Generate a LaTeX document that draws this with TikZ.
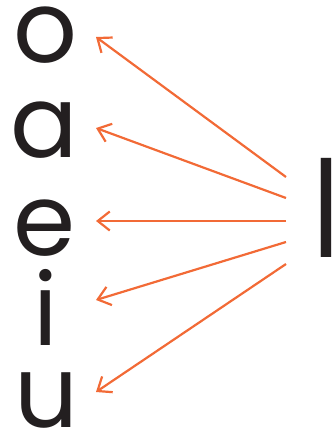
\documentclass[tikz,border=0pt]{standalone}
\usepackage{fontspec}
\newfontfamily\vowelfont{Poppins}
\newfontfamily\consfont{Poppins}
\usetikzlibrary{arrows.meta}
\definecolor{inkblack}{HTML}{231F20}
\definecolor{arroworange}{HTML}{F26A36}
\tikzset{
  vowel/.style={anchor=base, inner sep=0pt, text=inkblack, font=\vowelfont\fontsize{100}{100}\selectfont},
  consonant/.style={anchor=base, inner sep=0pt, text=inkblack, xscale=0.85, font=\consfont\fontsize{134}{134}\selectfont},
  pointer/.style={draw=arroworange, line width=2.2pt, -{Straight Barb[length=12pt,width=19pt,line width=2.2pt]}}
}
\begin{document}
\begin{tikzpicture}[x=1pt,y=-1pt]
\useasboundingbox (0,0) rectangle (335,432);
\node[vowel] (o) at (45,62) {o};
\node[vowel] (a) at (44,157) {a};
\node[vowel] (e) at (44.5,255) {e};
\node[vowel] (i) at (45.5,345) {i};
\node[vowel] (u) at (47,427) {u};
\node[consonant] (l) at (327,257) {l};
\coordinate (t1) at (286,177);
\coordinate (t2) at (286,198);
\coordinate (t3) at (286,221);
\coordinate (t4) at (286,242);
\coordinate (t5) at (286,264);
\coordinate (h1) at (96,37);
\coordinate (h2) at (96,128);
\coordinate (h3) at (96,221);
\coordinate (h4) at (96,300);
\coordinate (h5) at (96,392);
\draw[pointer] (t1) -- (h1);
\draw[pointer] (t2) -- (h2);
\draw[pointer] (t3) -- (h3);
\draw[pointer] (t4) -- (h4);
\draw[pointer] (t5) -- (h5);
\end{tikzpicture}
\end{document}
